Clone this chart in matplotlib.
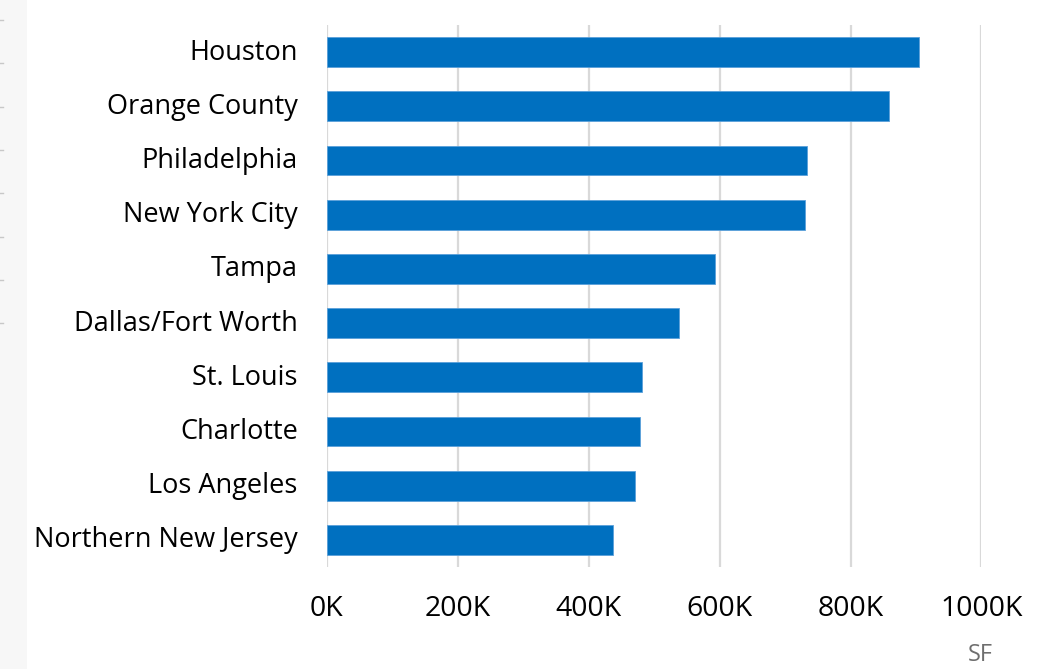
import matplotlib.pyplot as plt
import matplotlib.transforms as mtransforms
from matplotlib.patches import Rectangle
from matplotlib.lines import Line2D

plt.rcParams['font.family'] = ['Open Sans', 'DejaVu Sans']

markets = ['Houston', 'Orange County', 'Philadelphia', 'New York City', 'Tampa',
           'Dallas/Fort Worth', 'St. Louis', 'Charlotte', 'Los Angeles',
           'Northern New Jersey']
sq_ft_k = [905, 859, 733, 731, 593, 538, 481, 478, 470, 437]
x_ticks = [0, 200, 400, 600, 800, 1000]
x_tick_labels = ['0K', '200K', '400K', '600K', '800K', '1000K']

fig = plt.figure(figsize=(10.53, 6.69), dpi=100)
ax = fig.add_axes([0.3105, 0.1525, 0.6215, 0.81])

# grey side strip with small marks
fig.patches.append(Rectangle((0, 0), 27 / 1053, 1, transform=fig.transFigure,
                             facecolor='#f7f7f7', edgecolor='none', zorder=0))
for ypx in [20, 63, 107, 150, 193, 237, 280, 323]:
    yf = 1 - ypx / 669
    fig.lines.append(Line2D([0, 3 / 1053], [yf, yf], transform=fig.transFigure,
                            color='#c8c8c8', linewidth=1))

ypos = list(range(len(markets)))
ax.barh(ypos, sq_ft_k, height=0.55, color='#0070c0', edgecolor='#5aa0da',
        linewidth=0.6, zorder=3)

ax.set_ylim(len(markets) - 0.5, -0.5)
ax.set_xlim(0, 1000)
ax.set_yticks(ypos)
ax.set_yticklabels(markets, fontsize=19.5)
ax.set_xticks(x_ticks)
ax.set_xticklabels(x_tick_labels, fontsize=20.5)
ax.tick_params(axis='y', length=0, pad=21)
ax.tick_params(axis='x', length=0, pad=20)

# nudge category labels up a little
shift = mtransforms.ScaledTranslation(0, 3 / 100, fig.dpi_scale_trans)
for lbl in ax.get_yticklabels():
    lbl.set_transform(lbl.get_transform() + shift)

ax.grid(axis='x', color='#d9d9d9', linewidth=1.6, zorder=0)
ax.set_axisbelow(True)
for side in ['top', 'right', 'bottom', 'left']:
    ax.spines[side].set_visible(False)

fig.text(980 / 1053, 1 - 655 / 669, 'SF', ha='center', va='center',
         fontsize=17, color='#6e6e6e')

fig.savefig('out.png', dpi=100)
